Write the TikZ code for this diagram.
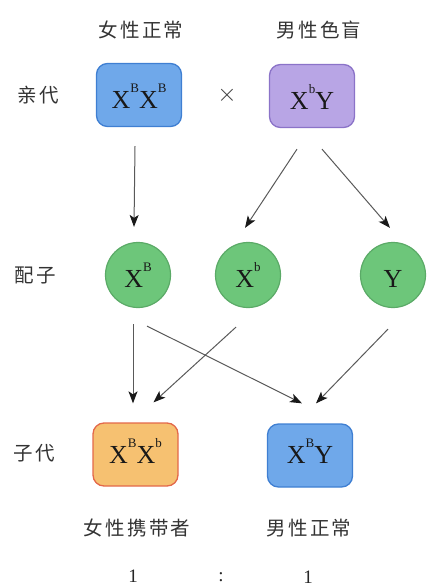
\documentclass[tikz,border=0pt]{standalone}
\usepackage{fontspec}
\setmainfont{Liberation Serif}
\newfontfamily\cjk[LetterSpace=12]{Noto Sans CJK SC}
\usetikzlibrary{arrows.meta}
\definecolor{bfill}{HTML}{6FA8EA}
\definecolor{bdraw}{HTML}{3F7FD2}
\definecolor{pfill}{HTML}{B8A5E5}
\definecolor{pdraw}{HTML}{8B73C8}
\definecolor{gfill}{HTML}{6DC67A}
\definecolor{gdraw}{HTML}{5BAA67}
\definecolor{ofill}{HTML}{F6C171}
\definecolor{odraw}{HTML}{E3684A}
\newcommand\supx[1]{\raisebox{16pt}[0pt][0pt]{\fontsize{13}{13}\selectfont #1}}
\begin{document}
\begin{tikzpicture}[x=1pt,y=-1pt,
  lbl/.style={font=\cjk\fontsize{19.5}{19.5}\selectfont, text=black!80, inner sep=0pt},
  num/.style={font=\fontsize{19}{19}\selectfont, text=black!85, inner sep=0pt, anchor=base},
  gbox/.style={rounded corners=11pt, minimum width=85pt, minimum height=63pt, line width=1.3pt, inner sep=0pt, font=\fontsize{26}{26}\selectfont, text=black!90, text depth=0pt},
  gam/.style={circle, minimum size=65pt, fill=gfill, draw=gdraw, line width=1.2pt, inner sep=0pt, font=\fontsize{26}{26}\selectfont, text=black!90, text height=24pt, text depth=0pt},
  arr/.style={draw=black!65, line width=1pt, -{Stealth[length=12pt,width=9pt,inset=3pt,color=black!90]}}
]
\useasboundingbox (0,0) rectangle (426,586);
% headings
\node[lbl] (h1) at (141,30) {女性正常};
\node[lbl] (h2) at (319,30) {男性色盲};
% row labels
\node[lbl] (r1) at (38,95) {亲代};
\node[lbl] (r2) at (35,275) {配子};
\node[lbl] (r3) at (34,453) {子代};
% parents
\node[gbox, fill=bfill, draw=bdraw, text height=27pt] (p1) at (139,95) {X\supx{B}X\supx{B}};
\node[font=\fontsize{34}{34}\selectfont, text=black!75, inner sep=0pt] (cross) at (227,95) {$\times$};
\node[gbox, fill=pfill, draw=pdraw, text height=26pt] (p2) at (312,96) {X\supx{b}Y};
% gametes
\node[gam] (g1) at (138,275) {X\supx{B}};
\node[gam] (g2) at (248,275) {X\supx{b}};
\node[gam] (g3) at (393,275) {Y};
% children
\node[gbox, fill=ofill, draw=odraw, text height=17pt] (c1) at (135.5,454.5) {X\supx{B}X\supx{b}};
\node[gbox, fill=bfill, draw=bdraw, text height=16pt] (c2) at (310,455.5) {X\supx{B}Y};
% child labels
\node[lbl] (t1) at (137,528) {女性携带者};
\node[lbl] (t2) at (309,528) {男性正常};
\node[num] (n1) at (133,582) {1};
\node[num] (n2) at (221,581) {:};
\node[num] (n3) at (308,583) {1};
% arrows
\draw[arr] ([shift={(-4,19)}]p1.south) -- ([shift={(-4,-15)}]g1.north);
\draw[arr] ([shift={(-15,21)}]p2.south) -- ([shift={(-3,-14)}]g2.north);
\draw[arr] ([shift={(10,21)}]p2.south) -- ([shift={(-3,-14)}]g3.north);
\draw[arr] ([shift={(-5,16)}]g1.south) -- ([shift={(-2.5,-19)}]c1.north);
\draw[arr] ([shift={(-12,19)}]g2.south) -- ([shift={(18,-20)}]c1.north);
\draw[arr] ([shift={(9,18)}]g1.south) -- ([shift={(-8,-20)}]c2.north);
\draw[arr] ([shift={(-5,21)}]g3.south) -- ([shift={(6,-20)}]c2.north);
\end{tikzpicture}
\end{document}
